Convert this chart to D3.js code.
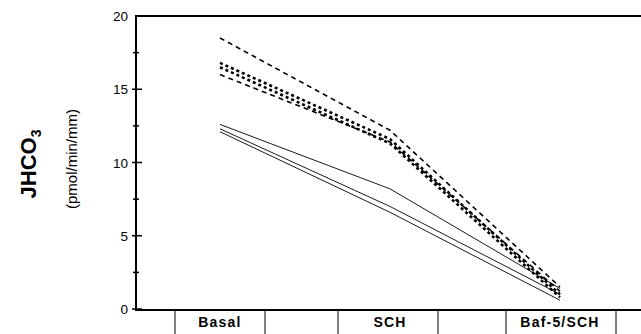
<!DOCTYPE html>
<html>
<head>
<meta charset="utf-8">
<script src="https://cdn.jsdelivr.net/npm/d3@7"></script>
<style>
  body { margin: 0; background: #fff; }
  svg { display: block; font-family: "Liberation Sans", Arial, sans-serif; }
</style>
</head>
<body>
<div id="chart"></div>
<script>
// conditions along the x axis
var conditions = ['Basal', 'SCH', 'Baf-5/SCH'];

// dashed series (thin and bold dashes)
var dashedTop   = [18.5, 12.2, 1.5];
var dashedBold1 = [16.8, 11.6, 1.0];
var dashedBold2 = [16.5, 11.3, 0.8];
var dashedLow   = [16.0, 11.4, 1.2];

// solid series
var solidTop = [12.6, 8.2, 1.4];
var solidMid = [12.3, 7.0, 1.0];
var solidLow = [12.1, 6.6, 0.6];

var yTicks = [0, 5, 10, 15, 20];
var yMinor = [2.5, 7.5, 12.5, 17.5];

var series = [
  {v: dashedTop, w: 1.6, dash: '5,4'},
  {v: dashedLow, w: 1.6, dash: '5,4'},
  {v: dashedBold1, w: 2.6, dash: '3,3'},
  {v: dashedBold2, w: 2.6, dash: '3,3'},
  {v: solidTop, w: 0.9, dash: null},
  {v: solidMid, w: 0.9, dash: null},
  {v: solidLow, w: 0.9, dash: null}
];

var width = 641, height = 334;
var svg = d3.select('#chart').append('svg')
            .attr('width', width)
            .attr('height', height);

var x = d3.scalePoint().domain(conditions).range([220, 560]);
var y = d3.scaleLinear().domain([0, 20]).range([309, 16]);

// frame: top line and bottom axis line
svg.append('line').attr('x1', 136).attr('x2', width)
   .attr('y1', y(20)).attr('y2', y(20))
   .attr('stroke', '#000').attr('stroke-width', 2);
svg.append('line').attr('x1', 136).attr('x2', width)
   .attr('y1', y(0) + 1).attr('y2', y(0) + 1)
   .attr('stroke', '#000').attr('stroke-width', 2);

// y axis
svg.append('line').attr('x1', 136).attr('x2', 136)
   .attr('y1', y(20) - 1).attr('y2', y(0) + 2)
   .attr('stroke', '#000').attr('stroke-width', 2);

svg.selectAll('.major').data(yTicks.filter(d => d < 20)).enter()
   .append('line').attr('class', 'major')
   .attr('x1', 132).attr('x2', 142)
   .attr('y1', d => y(d)).attr('y2', d => y(d))
   .attr('stroke', '#000').attr('stroke-width', 1.5);

svg.selectAll('.minor').data(yMinor).enter()
   .append('line').attr('class', 'minor')
   .attr('x1', 133).attr('x2', 139)
   .attr('y1', d => y(d)).attr('y2', d => y(d))
   .attr('stroke', '#000').attr('stroke-width', 1.5);

svg.selectAll('.ylab').data(yTicks).enter()
   .append('text').attr('class', 'ylab')
   .attr('x', 128).attr('y', d => y(d) + 5)
   .attr('text-anchor', 'end')
   .attr('font-size', 13.5)
   .text(d => d);

// axis titles
var t1 = svg.append('text')
   .attr('transform', 'translate(36,' + 164 + ') rotate(-90)')
   .attr('text-anchor', 'middle')
   .attr('font-size', 22).attr('font-weight', 'bold');
t1.append('tspan').text('JHCO');
t1.append('tspan').attr('font-size', 14).attr('dy', 5).text('3');

svg.append('text')
   .attr('transform', 'translate(77,' + 159 + ') rotate(-90)')
   .attr('text-anchor', 'middle')
   .attr('font-size', 15)
   .text('(pmol/min/mm)');

// condition table under the axis
var cellEdges = [175, 265, 338, 438, 506, 616];
svg.selectAll('.cell').data(cellEdges).enter()
   .append('line').attr('class', 'cell')
   .attr('x1', d => d).attr('x2', d => d)
   .attr('y1', y(0) + 1).attr('y2', height)
   .attr('stroke', '#000').attr('stroke-width', 1);

svg.selectAll('.xlab').data(conditions).enter()
   .append('text').attr('class', 'xlab')
   .attr('x', d => x(d)).attr('y', 327)
   .attr('text-anchor', 'middle')
   .attr('font-size', 14).attr('font-weight', 'bold')
   .attr('letter-spacing', 1.2)
   .text(d => d);

// data lines
var line = d3.line()
   .x((d, i) => x(conditions[i]))
   .y(d => y(d));

svg.selectAll('.series').data(series).enter()
   .append('path').attr('class', 'series')
   .attr('d', d => line(d.v))
   .attr('fill', 'none')
   .attr('stroke', '#000')
   .attr('stroke-width', d => d.w)
   .attr('stroke-dasharray', d => d.dash);
</script>
</body>
</html>
